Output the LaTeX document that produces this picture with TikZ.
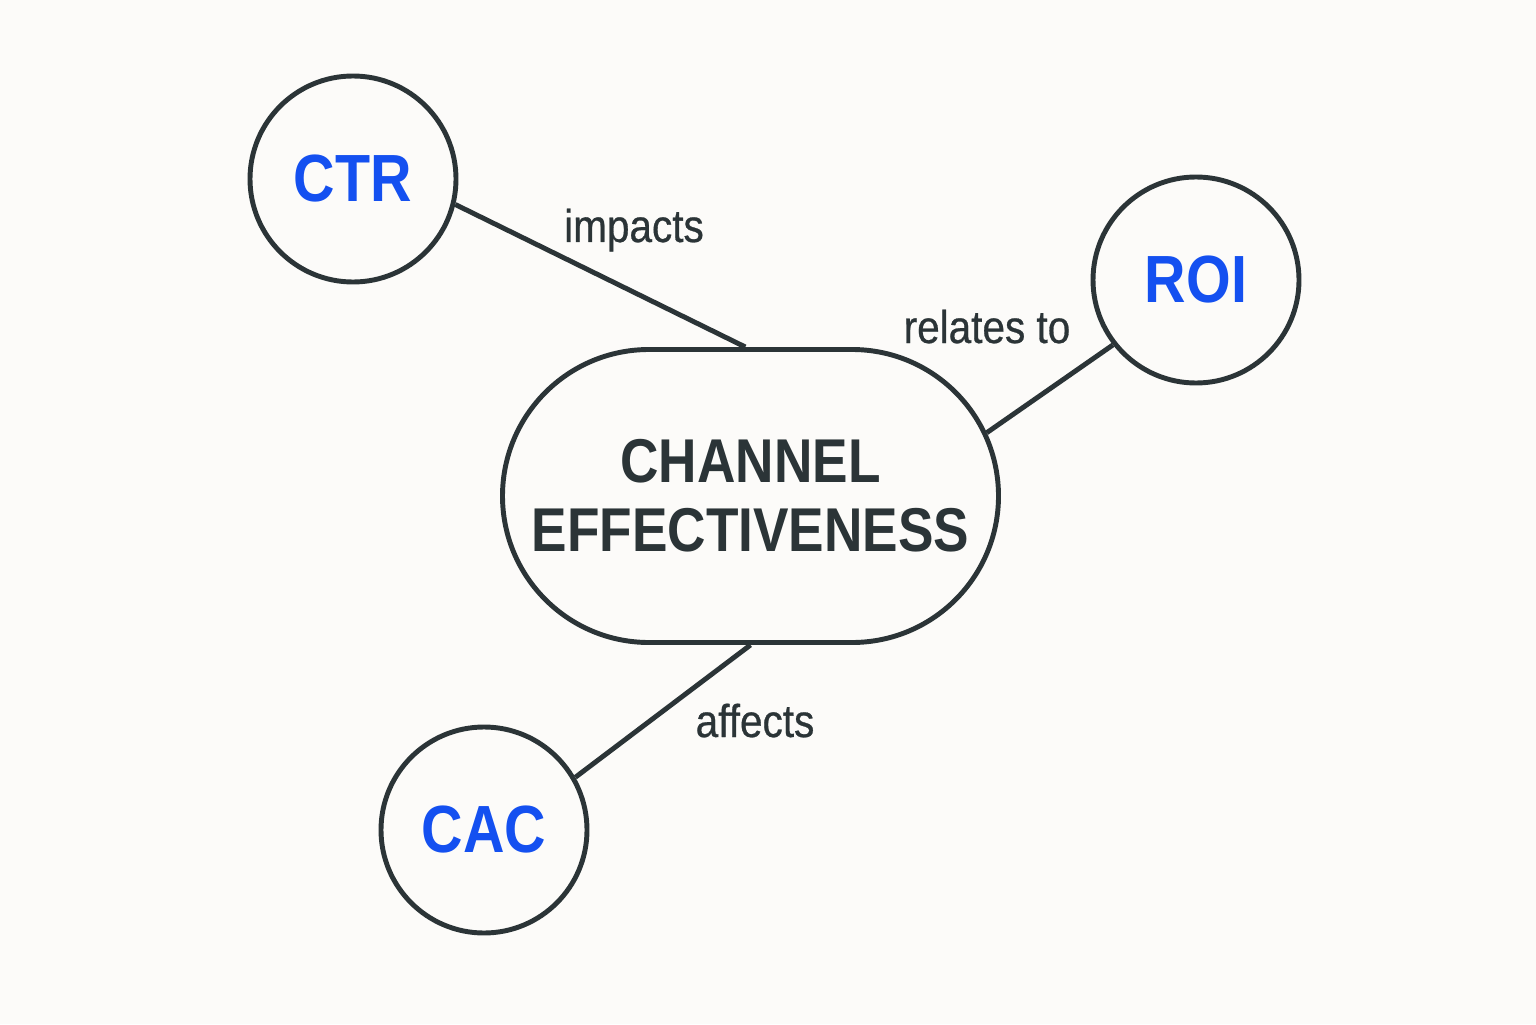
\documentclass[tikz,border=0pt]{standalone}
\usepackage{fontspec}
\usepackage{tikz}
\usetikzlibrary{shapes.misc}
\newfontfamily\diagfont[FakeStretch=0.86]{Liberation Sans}
\newfontfamily\labfont[FakeStretch=0.88,FakeBold=0.6]{Liberation Sans}
\definecolor{paper}{HTML}{FCFBF9}
\definecolor{ink}{HTML}{2B3437}
\definecolor{metric}{HTML}{1450F0}
\tikzset{
  metricnode/.style={circle, draw=ink, line width=1.4pt, fill=paper, minimum size=2.06cm, inner sep=0pt, text=metric, font=\diagfont\bfseries\fontsize{19}{22}\selectfont},
  hubnode/.style={rounded rectangle, draw=ink, line width=1.4pt, fill=paper, minimum width=4.96cm, minimum height=2.93cm, inner sep=0pt, align=center, text=ink, font=\diagfont\bfseries\fontsize{17.6}{19.6}\selectfont},
  link/.style={draw=ink, line width=1.4pt},
  lab/.style={text=ink, font=\labfont\fontsize{13.1}{16}\selectfont, anchor=base},
}
\begin{document}
\begin{tikzpicture}
  \fill[paper] (0,0) rectangle (15.36,10.24);
  \useasboundingbox (0,0) rectangle (15.36,10.24);
  \node[hubnode] (chan) at (7.505,5.28) {CHANNEL\\EFFECTIVENESS};
  \node[metricnode] (ctr) at (3.53,8.45) {CTR};
  \node[metricnode] (roi) at (11.96,7.44) {ROI};
  \node[metricnode] (cac) at (4.84,1.94) {CAC};
  % links to the hub
  \draw[link] (ctr.-14) -- (chan.92);
  \draw[link] (roi.218) -- (chan.15);
  \draw[link] (cac.30) -- (chan.south);
  \node[lab] (impacts) at (6.34,7.82) {impacts};
  \node[lab] (relates) at (9.87,6.81) {relates to};
  \node[lab] (affects) at (7.55,2.87) {affects};
\end{tikzpicture}
\end{document}
